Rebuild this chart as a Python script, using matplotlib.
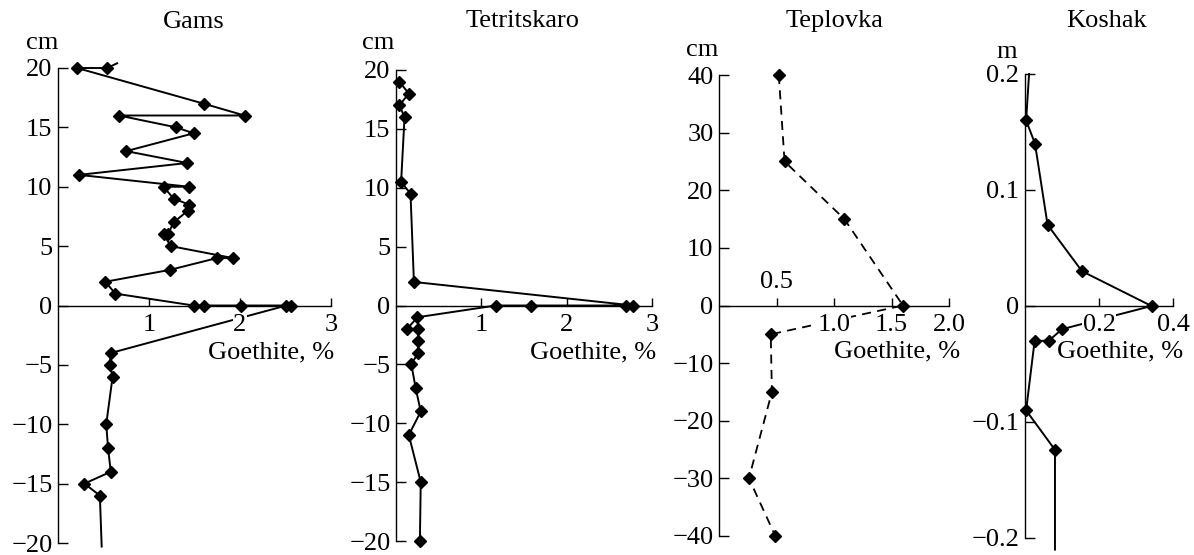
import matplotlib
matplotlib.use("Agg")
import matplotlib.pyplot as plt

plt.rcParams['font.family'] = ['Liberation Serif', 'DejaVu Serif']

W, H = 1194, 555
FS = 19

# ---- data ----
gams_depth = [20.4, 20, 20, 17, 16, 16, 15, 14.5, 13, 12, 11, 10, 10, 9, 8.5, 8, 7, 6, 6, 5,
              4, 4, 3, 2, 1, 0, 0, 0, 0, 0, -4, -5, -6, -10, -12, -14, -15, -16, -20.3]
gams_goethite = [0.65, 0.54, 0.21, 1.6, 2.05, 0.67, 1.3, 1.49, 0.75, 1.42, 0.23, 1.44, 1.16, 1.27,
                 1.44, 1.43, 1.27, 1.21, 1.16, 1.24, 1.92, 1.75, 1.23, 0.52, 0.63, 1.49, 1.6, 2.01,
                 2.56, 2.51, 0.58, 0.57, 0.6, 0.53, 0.55, 0.58, 0.29, 0.46, 0.48]

tet_depth = [19, 18, 17, 16, 10.5, 9.5, 2, 0, 0, 0, 0, -1, -2, -2, -3, -4, -5, -7, -9, -11, -15, -20]
tet_goethite = [0.04, 0.15, 0.04, 0.1, 0.06, 0.17, 0.21, 2.78, 2.7, 1.58, 1.17, 0.25, 0.13, 0.26,
                0.26, 0.26, 0.18, 0.23, 0.29, 0.15, 0.29, 0.28]

tep_depth = [40, 25, 15, 0, -5, -15, -30, -40]
tep_goethite = [0.52, 0.57, 1.09, 1.6, 0.45, 0.46, 0.26, 0.49]

kos_depth = [0.2, 0.16, 0.14, 0.07, 0.03, 0, -0.02, -0.03, -0.03, -0.09, -0.124, -0.21]
kos_goethite = [0.011, 0.003, 0.027, 0.061, 0.154, 0.342, 0.10, 0.064, 0.026, 0.003, 0.081, 0.081]

titles = ["Gams", "Tetritskaro", "Teplovka", "Koshak"]
depth_units = ["cm", "cm", "cm", "m"]

gams_yticks = [-20, -15, -10, -5, 0, 5, 10, 15, 20]
gams_xticks = [1, 2, 3]
tet_yticks = [-20, -15, -10, -5, 0, 5, 10, 15, 20]
tet_xticks = [1, 2, 3]
tep_yticks = [-40, -30, -20, -10, 0, 10, 20, 30, 40]
tep_xticks = [0.5, 1.0, 1.5, 2.0]
tep_xticklabels = ["", "1.0", "1.5", "2.0"]
kos_yticks = [-0.2, -0.1, 0, 0.1, 0.2]
kos_yticklabels = ["\u22120.2", "\u22120.1", "0", "0.1", "0.2"]
kos_xticks = [0.2, 0.4]

fig = plt.figure(figsize=(W / 100, H / 100), dpi=100)


def make_ax(x0, x1, xmax, ytop, ybot, ymin, ymax):
    ax = fig.add_axes([x0 / W, (H - ybot) / H, (x1 - x0) / W, (ybot - ytop) / H])
    ax.set_xlim(0, xmax)
    ax.set_ylim(ymin, ymax)
    ax.patch.set_visible(False)
    for s in ("top", "right"):
        ax.spines[s].set_visible(False)
    ax.spines["bottom"].set_position(("data", 0))
    ax.spines["left"].set_linewidth(1.0)
    ax.spines["bottom"].set_linewidth(1.0)
    ax.set_axisbelow(False)
    ax.tick_params(axis="y", direction="in", length=7, width=1.0, labelsize=FS, pad=4)
    ax.tick_params(axis="x", direction="in", length=6, width=1.0, labelsize=FS, pad=6)
    return ax


def finish(ax, xticks, xlabels, yticks, ylabels):
    ax.set_xticks(xticks)
    ax.set_xticklabels(xlabels)
    ax.set_yticks(yticks)
    ax.set_yticklabels(ylabels)
    for lab in ax.get_xticklabels():
        lab.set_bbox(dict(facecolor="white", edgecolor="none", pad=0.5))
        lab.set_zorder(5)


def ylab(v):
    return str(v).replace("-", "\u2212")


# Gams
ax1 = make_ax(58, 331, 3, 68, 543, -20, 20)
ax1.plot(gams_goethite, gams_depth, color="black", lw=1.4, marker="D", ms=6.5,
         markevery=list(range(1, len(gams_depth) - 1)), clip_on=False, zorder=2)
finish(ax1, gams_xticks, [str(v) for v in gams_xticks], gams_yticks, [ylab(v) for v in gams_yticks])

# Tetritskaro
ax2 = make_ax(396, 652, 3, 70, 541, -20, 20)
ax2.plot(tet_goethite, tet_depth, color="black", lw=1.4, marker="D", ms=6.5, clip_on=False, zorder=2)
finish(ax2, tet_xticks, [str(v) for v in tet_xticks], tet_yticks, [ylab(v) for v in tet_yticks])

# Teplovka
ax3 = make_ax(719, 949, 2.0, 75, 536, -40, 40)
ax3.plot(tep_goethite, tep_depth, color="black", lw=1.3, ls=(0, (5, 3.5)), marker="D", ms=6,
         clip_on=False, zorder=2)
finish(ax3, tep_xticks, tep_xticklabels, tep_yticks, [ylab(v) for v in tep_yticks])
ax3.annotate("0.5", xy=(0.5, 0), xytext=(0, 9), textcoords="offset points",
             ha="center", va="bottom", fontsize=FS)

# Koshak
ax4 = make_ax(1025, 1173, 0.4, 74, 538, -0.2, 0.2)
ax4.plot(kos_goethite, kos_depth, color="black", lw=1.4, marker="D", ms=6,
         markevery=list(range(1, len(kos_depth) - 1)), clip_on=False, zorder=2)
finish(ax4, kos_xticks, ["0.2", "0.4"], kos_yticks, kos_yticklabels)

# titles, units, axis labels
title_pos = [(194, 22), (523, 21), (834, 21), (1107, 21)]
unit_pos = [(42, 43), (378, 43), (702, 50), (1007, 52)]
xlabel_pos = [(334, 352), (656, 352), (960, 351), (1183, 351)]
for t, (tx, ty) in zip(titles, title_pos):
    fig.text(tx / W, 1 - ty / H, t, ha="center", va="center", fontsize=FS)
for u, (ux, uy) in zip(depth_units, unit_pos):
    fig.text(ux / W, 1 - uy / H, u, ha="center", va="center", fontsize=FS)
for (lx, ly) in xlabel_pos:
    fig.text(lx / W, 1 - ly / H, "Goethite, %", ha="right", va="center", fontsize=FS)

fig.savefig("out.png", dpi=100)
